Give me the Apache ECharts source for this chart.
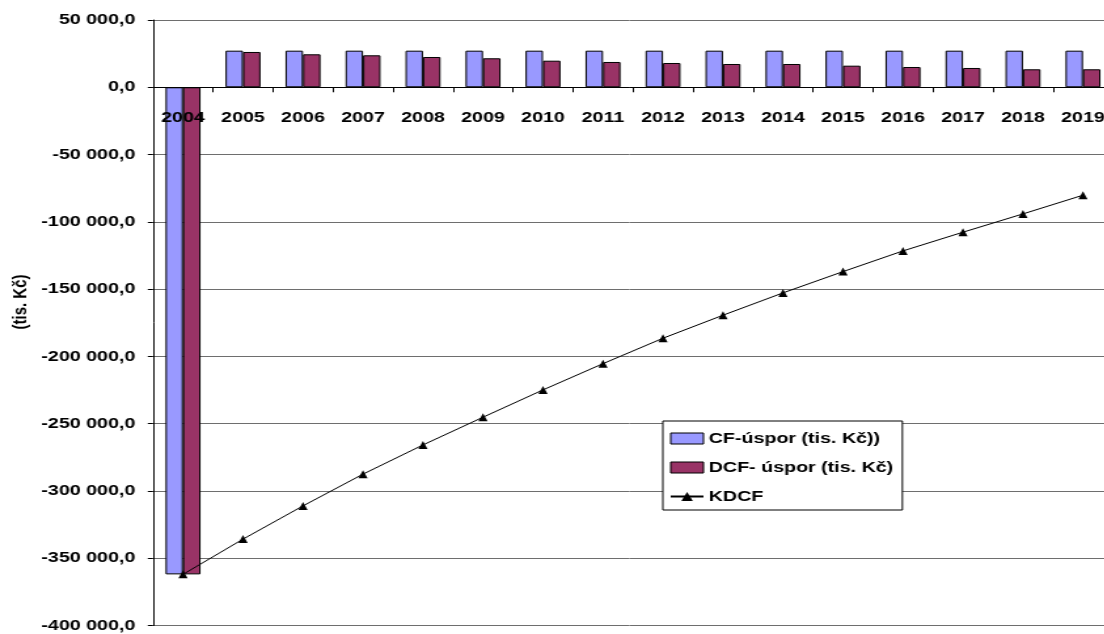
<!DOCTYPE html>
<html>
<head>
<meta charset="utf-8">
<script src="https://cdn.jsdelivr.net/npm/echarts@6/dist/echarts.min.js"></script>
<style>
  html, body { margin: 0; padding: 0; background: #fff; overflow: hidden; }
  #wrap { width: 1104px; height: 634px; overflow: hidden; position: relative; }
  /* the chart is laid out narrow and stretched sideways to the page width */
  #chart { width: 843px; height: 634px; transform: scaleX(1.31); transform-origin: 0 0; }
</style>
</head>
<body>
<div id="wrap"><div id="chart"></div></div>
<script>
const years = ['2004','2005','2006','2007','2008','2009','2010','2011','2012','2013','2014','2015','2016','2017','2018','2019'];
const cfSavings = [-362000, 27200, 27200, 27200, 27200, 27200, 27200, 27200, 27200, 27200, 27200, 27200, 27200, 27200, 27200, 27200];
const dcfSavings = [-362000, 26230, 24520, 23770, 22510, 21550, 19760, 18800, 18050, 17310, 17310, 16050, 15080, 14340, 13370, 13370];
const kdcf = [-362000, -335800, -311100, -287500, -265800, -245200, -224900, -205400, -186500, -169400, -152800, -137000, -121600, -107700, -94100, -80200];

const seriesNames = ['CF-úspor (tis. Kč))', 'DCF- úspor (tis. Kč)', 'KDCF'];
const axisTitle = '(tis. Kč)';

const FONT = '"Liberation Sans", Arial, sans-serif';

const Y_MIN = -400000, Y_MAX = 50000;
const GRID_TOP = 20, GRID_H = 605.5;
// the category axis sits on the zero line: distance of zero from the grid top
const zeroOffset = GRID_H * (Y_MAX - 0) / (Y_MAX - Y_MIN);

// "-350 000,0" style: space as thousands separator, comma decimal
function fmt(v) {
  const neg = v < 0;
  const s = Math.abs(Math.round(v)).toString().replace(/\B(?=(\d{3})+(?!\d))/g, ' ');
  return (neg ? '-' : '') + s + ',0';
}

const chart = echarts.init(document.getElementById('chart'), null, { renderer: 'canvas' });

chart.setOption({
  animation: false,
  backgroundColor: '#fff',
  textStyle: { fontFamily: FONT },
  grid: {
    left: 116.8, top: GRID_TOP, width: 732.8, height: GRID_H,
    containLabel: false,
    outerBoundsMode: 'none'
  },
  legend: {
    orient: 'vertical',
    left: 506, top: 421,
    padding: [10, 7, 6, 5],
    itemWidth: 25, itemHeight: 11, itemGap: 14,
    backgroundColor: '#fff',
    borderColor: '#000', borderWidth: 1,
    textStyle: { fontFamily: FONT, fontWeight: 'bold', fontSize: 15, color: '#000', padding: [0, 0, 0, -1] },
    data: [
      { name: seriesNames[0], icon: 'rect', itemStyle: { borderColor: '#000', borderWidth: 1 } },
      { name: seriesNames[1], icon: 'rect', itemStyle: { borderColor: '#000', borderWidth: 1 } },
      { name: seriesNames[2] }
    ]
  },
  xAxis: {
    type: 'category',
    data: years,
    boundaryGap: true,
    position: 'top',
    offset: -zeroOffset,
    z: 5,
    axisLine: { onZero: false, lineStyle: { color: '#000', width: 1 } },
    axisTick: { show: true, inside: true, length: 5, lineStyle: { color: '#000' } },
    axisLabel: {
      inside: true, interval: 0, margin: 23,
      fontFamily: FONT, fontWeight: 'bold', fontSize: 15, color: '#000'
    },
    splitLine: { show: false }
  },
  yAxis: {
    type: 'value',
    min: Y_MIN, max: Y_MAX, interval: 50000,
    axisLine: { show: true, lineStyle: { color: '#000', width: 1 } },
    axisTick: { show: true, length: 4, lineStyle: { color: '#000' } },
    axisLabel: {
      margin: 13.5, formatter: fmt,
      fontFamily: FONT, fontWeight: 'bold', fontSize: 15, color: '#000'
    },
    splitLine: { show: true, lineStyle: { color: '#6e6e6e', width: 1 } }
  },
  graphic: [{
    type: 'text',
    x: 15.5, y: 302,
    rotation: Math.PI / 2,
    style: {
      text: axisTitle,
      font: 'bold 15px ' + FONT,
      fill: '#000',
      align: 'center',
      verticalAlign: 'middle'
    }
  }],
  series: [
    {
      name: seriesNames[0], type: 'bar', data: cfSavings,
      barWidth: 13.35, barGap: '0%',
      itemStyle: { color: '#9999FF', borderColor: '#000', borderWidth: 1 }
    },
    {
      name: seriesNames[1], type: 'bar', data: dcfSavings,
      barWidth: 13.35, barGap: '0%',
      itemStyle: { color: '#993366', borderColor: '#000', borderWidth: 1 }
    },
    {
      name: seriesNames[2], type: 'line', data: kdcf, z: 6,
      symbol: 'triangle', symbolSize: [7, 8], showAllSymbol: true,
      lineStyle: { color: '#000', width: 1 },
      itemStyle: { color: '#000' }
    }
  ]
});
</script>
</body>
</html>
